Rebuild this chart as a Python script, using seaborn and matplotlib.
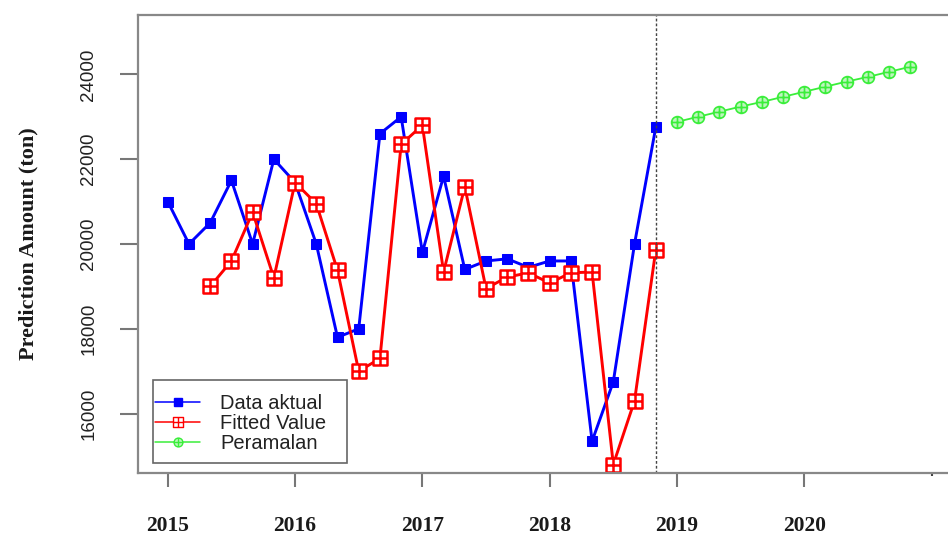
import numpy as np
import pandas as pd
import matplotlib
matplotlib.use("Agg")
import matplotlib.pyplot as plt
from matplotlib.path import Path
from matplotlib.patches import Rectangle
import seaborn as sns

# Bimonthly observations, Jan 2015 - Nov 2018 (ton)
actual = [21000, 20000, 20500, 21500, 20000, 22000,
          21450, 20000, 17800, 18000, 22600, 23000,
          19800, 21600, 19400, 19600, 19650, 19450,
          19600, 19600, 15350, 16750, 20000, 22750]
# Model fitted values, available from the third period onwards
fitted = [19000, 19600, 20750, 19200,
          21450, 20950, 19380, 17000, 17300, 22350,
          22800, 19340, 21350, 18950, 19220, 19320,
          19080, 19320, 19340, 14800, 16300, 19850]
# Forecast for 2019 - 2020
forecast = [22880, 23000, 23120, 23240, 23350, 23470,
            23590, 23710, 23830, 23940, 24060, 24180]
year_ticks = [2015, 2016, 2017, 2018, 2019, 2020]
y_ticks = [16000, 18000, 20000, 22000, 24000]

t_actual = 2015 + np.arange(len(actual)) / 6
t_fitted = t_actual[len(actual) - len(fitted):]
t_fc = 2019 + np.arange(len(forecast)) / 6

df_a = pd.DataFrame({"t": t_actual, "v": actual})
df_f = pd.DataFrame({"t": t_fitted, "v": fitted})
df_p = pd.DataFrame({"t": t_fc, "v": forecast})

# square-with-plus and circle-with-plus marker shapes
M, L, C = Path.MOVETO, Path.LINETO, Path.CLOSEPOLY
sq_plus = Path([(-1, -1), (1, -1), (1, 1), (-1, 1), (-1, -1),
                (0, -1), (0, 1), (-1, 0), (1, 0)],
               [M, L, L, L, C, M, L, M, L])
cross = Path([(0, -1), (0, 1), (-1, 0), (1, 0)], [M, L, M, L])
circ_plus = Path.make_compound_path(Path.unit_circle(), cross)

sns.set_theme(style="white")
plt.rcParams["font.family"] = ["Liberation Sans", "DejaVu Sans"]

fig = plt.figure(figsize=(9.48, 5.34), dpi=100)
ax = fig.add_axes([0.1453, 0.1148, 0.8674, 0.8571])

sns.lineplot(data=df_a, x="t", y="v", ax=ax, color="#0000ff", lw=2.1,
             marker="s", markersize=7.5, markeredgecolor="#0000ff",
             markerfacecolor="#0000ff", label="Data aktual")
sns.lineplot(data=df_f, x="t", y="v", ax=ax, color="#ff0000", lw=2.1,
             marker=sq_plus, markersize=9.5, markeredgecolor="#ff0000",
             markerfacecolor="white", markeredgewidth=1.8,
             label="Fitted Value")
sns.lineplot(data=df_p, x="t", y="v", ax=ax, color="#3aee3a", lw=1.3,
             marker=circ_plus, markersize=8.5, markeredgecolor="#3aee3a",
             markerfacecolor="#bdf5bd", markeredgewidth=1.2,
             label="Peramalan")

ax.axvline(t_actual[-1], color="#444444", lw=1.0, ls=(0, (2, 1.5)))

ax.set_xlim(2014.764, 2021.224)
ax.set_ylim(14607, 25400)

ax.set_xticks(year_ticks)
ax.set_xticklabels([str(y) for y in year_ticks], family="Liberation Serif",
                   fontweight="bold", fontsize=15.5, color="#1a1a1a")
ax.set_xticks([2021], minor=True)
ax.set_yticks(y_ticks)
ax.set_yticklabels([str(v) for v in y_ticks], fontsize=13.5, rotation=90,
                   va="center", ha="right", color="#222222")
ax.tick_params(axis="x", which="major", length=10, width=1.5,
               color="#777777", pad=21, bottom=True)
ax.tick_params(axis="x", which="minor", length=2, width=1.5,
               color="#444444", bottom=True)
ax.tick_params(axis="y", length=13, width=1.5, color="#777777", pad=16,
               left=True)

ax.set_xlabel("")
ax.set_ylabel("Prediction Amount (ton)", family="Liberation Serif",
              fontweight="bold", fontsize=16, labelpad=30, color="#1a1a1a")

for s in ax.spines.values():
    s.set_color("#888888")
    s.set_linewidth(1.6)

# legend entries without their own frame, boxed by a separate rectangle
leg = ax.legend(loc="upper left", bbox_to_anchor=(0.021, 0.171),
                borderaxespad=0, borderpad=0, fontsize=14.5,
                handlelength=2.25, handletextpad=1.0, labelspacing=0.03,
                markerscale=0.75, frameon=False)
for txt in leg.get_texts():
    txt.set_color("#222222")
for h in leg.legend_handles:
    h.set_linewidth(1.1)
    h.set_markeredgewidth(1.0)
ax.add_patch(Rectangle((0.0186, 0.0212), 0.2359, 0.1813,
                       transform=ax.transAxes, facecolor="white",
                       edgecolor="#666666", lw=1.2, zorder=4))
leg.set_zorder(5)

fig.savefig("out.png", dpi=100)
